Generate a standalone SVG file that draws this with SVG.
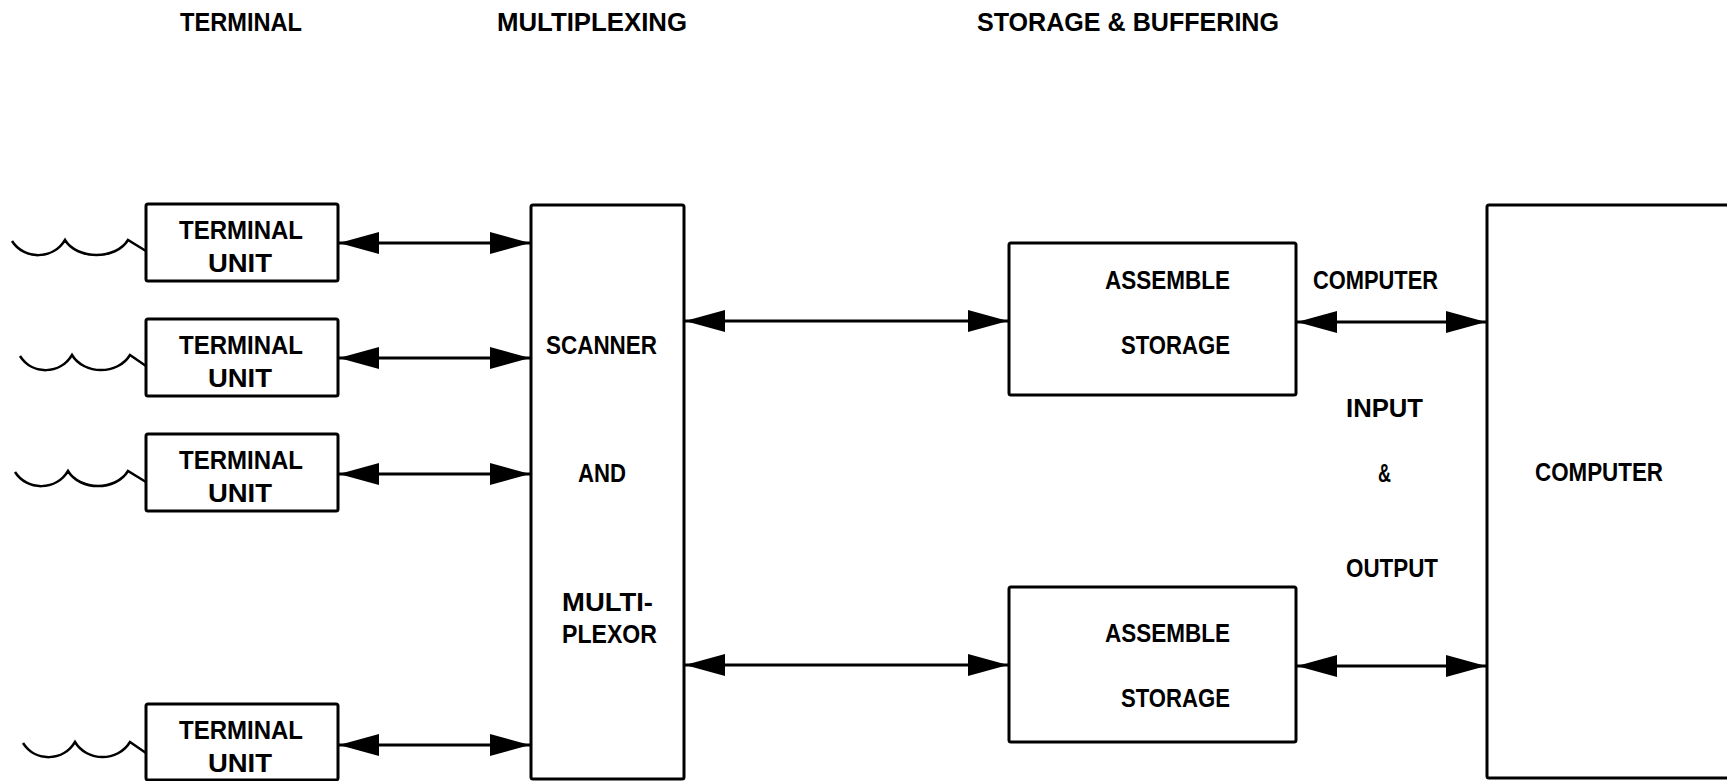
<svg xmlns="http://www.w3.org/2000/svg" width="1727" height="781" viewBox="0 0 1727 781">
<defs>
<style>
.box{fill:none;stroke:#000;stroke-width:3}
.wire{fill:none;stroke:#000;stroke-width:2.5}
.conn{fill:none;stroke:#000;stroke-width:3;marker-start:url(#ah);marker-end:url(#ah)}
text{font-family:"Liberation Sans",Arial,sans-serif;font-weight:bold;font-size:25px;fill:#000}
</style>
<marker id="ah" viewBox="0 0 40 22" refX="40" refY="11" markerWidth="40" markerHeight="22" markerUnits="userSpaceOnUse" orient="auto-start-reverse">
<path d="M0,0 L40,11 L0,22 z" fill="#000"/>
</marker>
</defs>
<rect width="1727" height="781" fill="#fff"/>

<g id="headers">
<text x="180" y="31" textLength="122" lengthAdjust="spacingAndGlyphs">TERMINAL</text>
<text x="497" y="31" textLength="190" lengthAdjust="spacingAndGlyphs">MULTIPLEXING</text>
<text x="977" y="31" textLength="302" lengthAdjust="spacingAndGlyphs">STORAGE &amp; BUFFERING</text>
</g>

<g id="terminal1">
<rect class="box" x="146" y="204" width="192" height="77" rx="2"/>
<text x="179" y="239" textLength="124" lengthAdjust="spacingAndGlyphs">TERMINAL</text>
<text x="208" y="272" textLength="64" lengthAdjust="spacingAndGlyphs">UNIT</text>
<path class="wire" d="M12,241 C24,260 53,260 65,240 C77,260 116,260 128,240 L146,251"/>
</g>
<g id="terminal2">
<rect class="box" x="146" y="319" width="192" height="77" rx="2"/>
<text x="179" y="354" textLength="124" lengthAdjust="spacingAndGlyphs">TERMINAL</text>
<text x="208" y="387" textLength="64" lengthAdjust="spacingAndGlyphs">UNIT</text>
<path class="wire" d="M20,356 C32,375 60,375 72,355 C84,375 118,375 130,355 L146,366"/>
</g>
<g id="terminal3">
<rect class="box" x="146" y="434" width="192" height="77" rx="2"/>
<text x="179" y="469" textLength="124" lengthAdjust="spacingAndGlyphs">TERMINAL</text>
<text x="208" y="502" textLength="64" lengthAdjust="spacingAndGlyphs">UNIT</text>
<path class="wire" d="M15,472 C27,491 56,491 68,471 C80,491 116,491 128,471 L146,482"/>
</g>
<g id="terminal4">
<rect class="box" x="146" y="704" width="192" height="76" rx="2"/>
<text x="179" y="739" textLength="124" lengthAdjust="spacingAndGlyphs">TERMINAL</text>
<text x="208" y="772" textLength="64" lengthAdjust="spacingAndGlyphs">UNIT</text>
<path class="wire" d="M23,743 C35,762 63,762 75,742 C87,762 118,762 130,742 L146,753"/>
</g>

<g id="scanner">
<rect class="box" x="531" y="205" width="153" height="574" rx="2"/>
<text x="546" y="354" textLength="111" lengthAdjust="spacingAndGlyphs">SCANNER</text>
<text x="578" y="482" textLength="48" lengthAdjust="spacingAndGlyphs">AND</text>
<text x="562" y="611" textLength="91" lengthAdjust="spacingAndGlyphs">MULTI-</text>
<text x="562" y="643" textLength="95" lengthAdjust="spacingAndGlyphs">PLEXOR</text>
</g>

<g id="assemble1">
<rect class="box" x="1009" y="243" width="287" height="152" rx="2"/>
<text x="1105" y="289" textLength="125" lengthAdjust="spacingAndGlyphs">ASSEMBLE</text>
<text x="1121" y="354" textLength="109" lengthAdjust="spacingAndGlyphs">STORAGE</text>
</g>
<g id="assemble2">
<rect class="box" x="1009" y="587" width="287" height="155" rx="2"/>
<text x="1105" y="642" textLength="125" lengthAdjust="spacingAndGlyphs">ASSEMBLE</text>
<text x="1121" y="707" textLength="109" lengthAdjust="spacingAndGlyphs">STORAGE</text>
</g>

<g id="computer">
<rect class="box" x="1487" y="205" width="260" height="573" rx="2"/>
<text x="1535" y="481" textLength="128" lengthAdjust="spacingAndGlyphs">COMPUTER</text>
</g>

<g id="io-label">
<text x="1313" y="289" textLength="125" lengthAdjust="spacingAndGlyphs">COMPUTER</text>
<text x="1346" y="417" textLength="77" lengthAdjust="spacingAndGlyphs">INPUT</text>
<text x="1378" y="482" textLength="13" lengthAdjust="spacingAndGlyphs">&amp;</text>
<text x="1346" y="577" textLength="92" lengthAdjust="spacingAndGlyphs">OUTPUT</text>
</g>

<g id="connectors">
<line class="conn" x1="339" y1="243" x2="530" y2="243"/>
<line class="conn" x1="339" y1="358" x2="530" y2="358"/>
<line class="conn" x1="339" y1="474" x2="530" y2="474"/>
<line class="conn" x1="339" y1="745" x2="530" y2="745"/>
<line class="conn" x1="685" y1="321" x2="1008" y2="321"/>
<line class="conn" x1="685" y1="665" x2="1008" y2="665"/>
<line class="conn" x1="1297" y1="322" x2="1486" y2="322"/>
<line class="conn" x1="1297" y1="666" x2="1486" y2="666"/>
</g>
</svg>
